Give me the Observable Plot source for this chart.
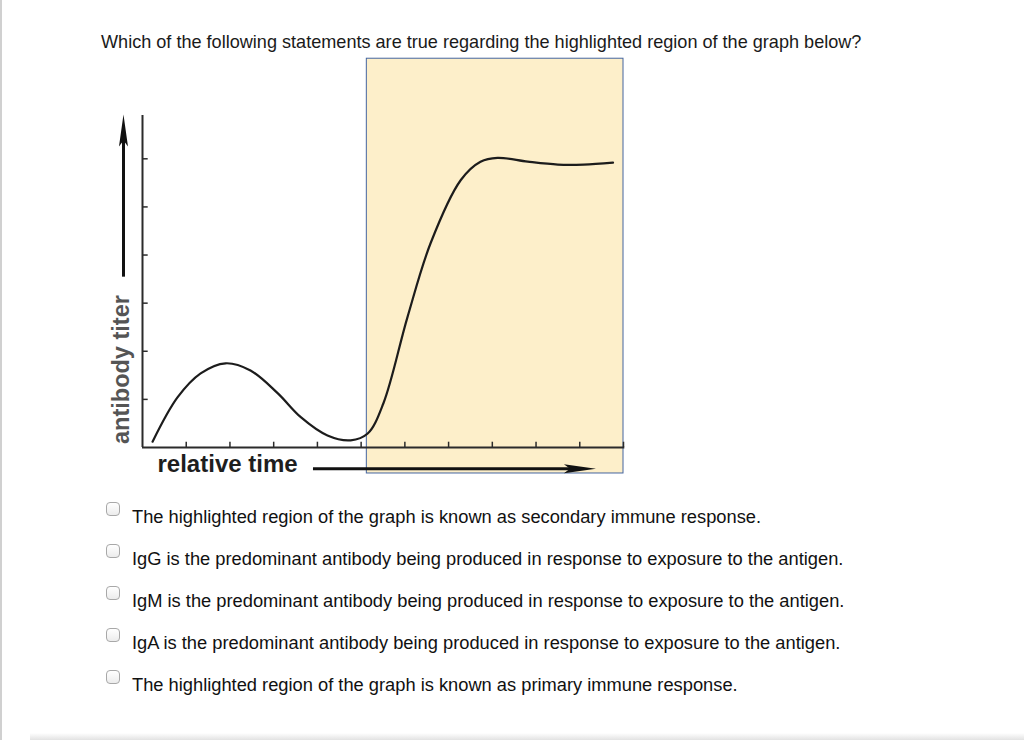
<!DOCTYPE html>
<html>
<head>
<meta charset="utf-8">
<script src="https://cdn.jsdelivr.net/npm/d3@7"></script>
<script src="https://cdn.jsdelivr.net/npm/@observablehq/plot@0.6"></script>
<style>
  html, body { margin: 0; padding: 0; background: #fff; }
  body { width: 1024px; height: 740px; position: relative; overflow: hidden;
         font-family: "Liberation Sans", Arial, Helvetica, sans-serif; color: #111; }
  #title { position: absolute; left: 101px; top: 32px; font-size: 18.1px; line-height: 20px; white-space: nowrap; color: #1a1a1a; }
  #chart { position: absolute; left: 80px; top: 50px; }
  .opt { position: absolute; left: 106px; height: 20px; white-space: nowrap; }
  .box { position: absolute; left: 0; top: 0; width: 12px; height: 12px; border: 1px solid #a8a8a8; border-radius: 4px;
         background: linear-gradient(#ffffff, #ececec); box-sizing: content-box; }
  .txt { position: absolute; left: 26px; font-size: 18.3px; line-height: 20px; color: #111; }
  #leftline { position: absolute; left: 0; top: 0; width: 2px; height: 740px; background: #d0d0d0; }
  #shadow { position: absolute; left: 30px; top: 733px; width: 994px; height: 7px;
            background: linear-gradient(#ffffff, #e2e2e2); }
</style>
</head>
<body>
<div id="leftline"></div>
<div id="title"></div>
<div id="chart"></div>
<div id="options"></div>
<div id="shadow"></div>
<script>
// ---- data ----
const titleText = "Which of the following statements are true regarding the highlighted region of the graph below?";
const xLabel = "relative time";
const yLabel = "antibody titer";
const curveTime  = [0.23, 0.80, 1.33, 1.90, 2.47, 3.09, 3.62, 4.23, 4.76, 5.15, 5.51, 6.06, 6.59, 7.28, 7.73, 8.12, 8.81, 9.50, 10.09, 10.76];
const curveTiter = [0.12, 1.04, 1.54, 1.75, 1.60, 1.13, 0.63, 0.25, 0.15, 0.29, 0.92, 2.71, 4.25, 5.56, 5.94, 6.02, 5.94, 5.88, 5.88, 5.92];
const xTicks = [1, 2, 3, 4, 5, 6, 7, 8, 9, 10, 11];
const yTicks = [1, 2, 3, 4, 5, 6];
const highlightTime = [5.13, 11.0];
const highlightTiter = [-0.54, 8.08];
const timeArrow = [3.91, 10.37];   // time extent of the "relative time" arrow
const titerArrow = [3.54, 6.92];   // titer extent of the "antibody titer" arrow
const statements = [
  "The highlighted region of the graph is known as secondary immune response.",
  "IgG is the predominant antibody being produced in response to exposure to the antigen.",
  "IgM is the predominant antibody being produced in response to exposure to the antigen.",
  "IgA is the predominant antibody being produced in response to exposure to the antigen.",
  "The highlighted region of the graph is known as primary immune response."
];

// ---- build ----
document.getElementById("title").textContent = titleText;

const curve = curveTime.map((t, i) => ({t, v: curveTiter[i]}));
const xArrowY = -0.44, yArrowX = -0.435;

const headRight = {draw(ctx) { ctx.moveTo(0, 0); ctx.lineTo(-32, -4.5); ctx.lineTo(-26, 0); ctx.lineTo(-32, 4.5); ctx.closePath(); }};
const headUp = {draw(ctx) { ctx.moveTo(0, 0); ctx.lineTo(-4.5, 32); ctx.lineTo(0, 26); ctx.lineTo(4.5, 32); ctx.closePath(); }};

const chart = Plot.plot({
  width: 560,
  height: 440,
  marginLeft: 62,
  marginRight: 17,
  marginTop: 65,
  marginBottom: 43,
  x: {domain: [0, 11], axis: null},
  y: {domain: [0, 6.9], axis: null},
  style: {fontFamily: "'Liberation Sans', Arial, Helvetica, sans-serif", background: "transparent", overflow: "visible"},
  marks: [
    Plot.rect([0], {x1: highlightTime[0], x2: highlightTime[1], y1: highlightTiter[0], y2: highlightTiter[1],
                    fill: "#fdefca", stroke: "#44659f", strokeWidth: 1}),
    Plot.ruleX([0], {y1: 0, y2: 6.9, stroke: "#2b2b2b", strokeWidth: 2}),
    Plot.ruleY([0], {x1: 0, x2: 11.03, stroke: "#2b2b2b", strokeWidth: 2}),
    Plot.ruleY(yTicks, {x1: 0, x2: 0.13, stroke: "#2b2b2b", strokeWidth: 1.5}),
    Plot.ruleX(xTicks, {y1: 0, y2: 0.11, stroke: "#2b2b2b", strokeWidth: 1.5}),
    Plot.line(curve, {x: "t", y: "v", curve: "catmull-rom", stroke: "#1c1c1c", strokeWidth: 2.2}),
    // axis direction arrows
    Plot.ruleY([xArrowY], {x1: timeArrow[0], x2: timeArrow[1] - 0.5, stroke: "#111", strokeWidth: 3}),
    Plot.dot([0], {x: timeArrow[1], y: xArrowY, symbol: headRight, fill: "#111", stroke: "none"}),
    Plot.ruleX([yArrowX], {y1: titerArrow[0], y2: titerArrow[1] - 0.5, stroke: "#111", strokeWidth: 3}),
    Plot.dot([0], {x: yArrowX, y: titerArrow[1], symbol: headUp, fill: "#111", stroke: "none"}),
    Plot.text([xLabel], {x: 1.945, y: -0.35, text: d => d, fontSize: 24, fontWeight: "bold", fill: "#1e1e1e"}),
    Plot.text([yLabel], {x: -0.48, y: 1.62, text: d => d, rotate: -90, fontSize: 23.5, fontWeight: "bold", fill: "#555"})
  ]
});
document.getElementById("chart").appendChild(chart);

const opts = document.getElementById("options");
statements.forEach((s, i) => {
  const row = document.createElement("div");
  row.className = "opt";
  row.style.top = (502 + i * 42) + "px";
  const box = document.createElement("div");
  box.className = "box";
  const txt = document.createElement("div");
  txt.className = "txt";
  txt.style.top = "5px";
  txt.textContent = s;
  row.appendChild(box);
  row.appendChild(txt);
  opts.appendChild(row);
});
</script>
</body>
</html>
